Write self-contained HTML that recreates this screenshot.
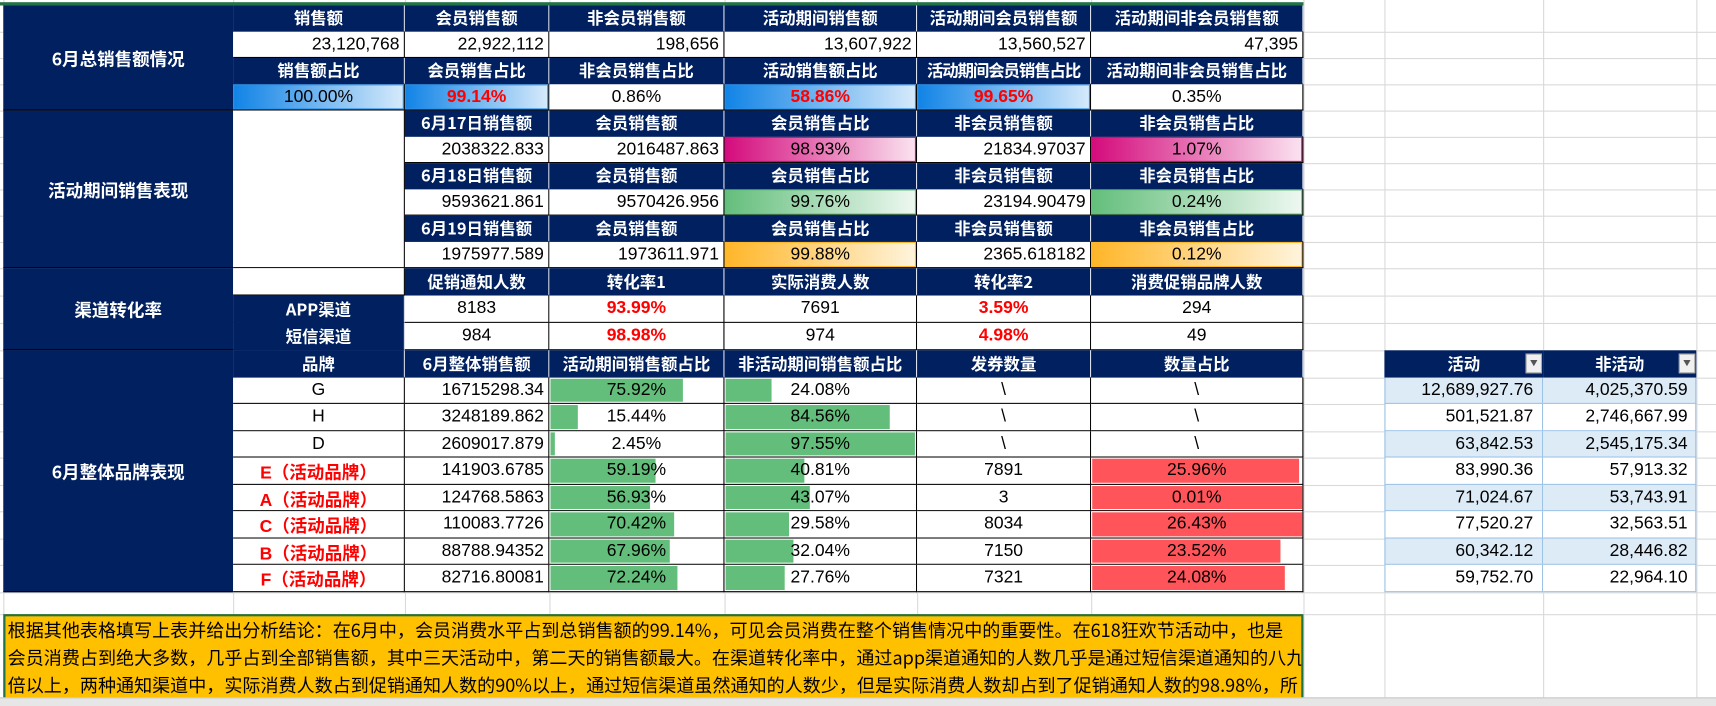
<!DOCTYPE html>
<html><head><meta charset="utf-8"><style>
html,body{margin:0;padding:0;background:#fff;overflow:hidden}
#w{position:absolute;left:0;top:0;width:1568px;height:644px;transform:scale(1.0944,1.0947);transform-origin:0 0;font-family:"Liberation Sans","Noto Sans CJK SC",sans-serif;}
.gv{position:absolute;top:0;height:644px;width:1px;background:#d9d9d9}
.gh{position:absolute;left:0;width:1568px;height:1px;background:#d9d9d9}
.c{position:absolute;box-sizing:border-box;display:flex;align-items:center;justify-content:center;font-size:16px;color:#000;background:#fff;border-right:1px solid #000;border-bottom:1px solid #000;white-space:nowrap;overflow:hidden}
.h{background:#002060;color:#fff;font-weight:bold;font-family:"Noto Sans CJK SC","Liberation Sans",sans-serif;font-size:15px;border-right:1px solid #dfe3ee;border-bottom:1px solid #002060}
.n{justify-content:flex-end;padding-right:4px}
.red{color:#f00;font-weight:bold}
.cB{left:213px;width:157px}.cC{left:370px;width:132px}.cD{left:502px;width:160px}.cE{left:662px;width:176px}.cF{left:838px;width:159px}.cG{left:997px;width:194px}
.cI{left:1265px;width:145px}.cJ{left:1410px;width:140px}
.r1{top:5px;height:24px}.r2{top:29px;height:24px}.r3{top:53px;height:24px}.r4{top:77px;height:24px}.r5{top:101px;height:24px}.r6{top:125px;height:24px}.r7{top:149px;height:24px}.r8{top:173px;height:24px}.r9{top:197px;height:24px}.r10{top:221px;height:24px}.r11{top:245px;height:25px}.r12{top:270px;height:25px}.r13{top:295px;height:25px}.r14{top:320px;height:25px}.r15{top:345px;height:24px}.r16{top:369px;height:25px}.r17{top:394px;height:24px}.r18{top:418px;height:25px}.r19{top:443px;height:24px}.r20{top:467px;height:25px}.r21{top:492px;height:24px}.r22{top:516px;height:25px}
.blue{background:linear-gradient(to right,#1083e6,#d6eafb);box-shadow:inset 0 0 0 1px #2b8fe8}
.mag{background:linear-gradient(to right,#d40a7c,#fbe3f0);box-shadow:inset 0 0 0 1px #d40a7c}
.grn{background:linear-gradient(to right,#63be7b,#eef8f1);box-shadow:inset 0 0 0 1px #63be7b}
.org{background:linear-gradient(to right,#ffb628,#fff4dd);box-shadow:inset 0 0 0 1px #ffb628}
.b{position:absolute;left:1px;top:1px;bottom:1px;background:#63be7b}
.rb{position:absolute;left:1px;top:1px;bottom:1px;background:#ff555a}
.t{position:relative}
.A{position:absolute;left:3px;width:210px;background:#002060;color:#fff;font-weight:bold;font-size:16px;display:flex;align-items:center;justify-content:center;border-bottom:1px solid #000;box-sizing:border-box;font-family:"Noto Sans CJK SC",sans-serif}
.tb{background:#fff;border-right:none;border-bottom:1px solid #9bc2e6;justify-content:flex-end;padding-right:8px;font-size:16px}
.tb.l{background:#ddebf7}
.cI.tb{border-right:1px solid #9bc2e6}
.dd{position:absolute;right:1px;top:3px;width:15px;height:18px;background:#f0f0f0;border:1px solid #aaa;box-sizing:border-box;font-size:7px;color:#555;display:flex;align-items:center;justify-content:center}
#txt{position:absolute;left:3px;top:561px;width:1188px;height:80px;background:#ffc000;border:2px solid #217346;box-sizing:border-box;font-family:"Noto Sans CJK SC","Liberation Sans",sans-serif;font-size:16.5px;line-height:25px;overflow:hidden;padding-left:2px;white-space:nowrap}
</style></head><body><div id="w">
<div class="gv" style="left:3px"></div><div class="gv" style="left:213px"></div><div class="gv" style="left:370px"></div><div class="gv" style="left:502px"></div><div class="gv" style="left:662px"></div><div class="gv" style="left:838px"></div><div class="gv" style="left:997px"></div><div class="gv" style="left:1191px"></div><div class="gv" style="left:1265px"></div><div class="gv" style="left:1410px"></div><div class="gv" style="left:1550px"></div>
<div class="gh" style="top:29px"></div><div class="gh" style="top:53px"></div><div class="gh" style="top:77px"></div><div class="gh" style="top:101px"></div><div class="gh" style="top:125px"></div><div class="gh" style="top:149px"></div><div class="gh" style="top:173px"></div><div class="gh" style="top:197px"></div><div class="gh" style="top:221px"></div><div class="gh" style="top:245px"></div><div class="gh" style="top:270px"></div><div class="gh" style="top:295px"></div><div class="gh" style="top:320px"></div><div class="gh" style="top:345px"></div><div class="gh" style="top:369px"></div><div class="gh" style="top:394px"></div><div class="gh" style="top:418px"></div><div class="gh" style="top:443px"></div><div class="gh" style="top:467px"></div><div class="gh" style="top:492px"></div><div class="gh" style="top:516px"></div><div class="gh" style="top:541px"></div><div class="gh" style="top:561px"></div>
<div style="position:absolute;left:0;top:2px;width:1191px;height:3px;background:#217346"></div>

<div class="A" style="top:5px;height:96px">6月总销售额情况</div>
<div class="A" style="top:101px;height:144px">活动期间销售表现</div>
<div class="A" style="top:245px;height:75px">渠道转化率</div>
<div class="A" style="top:320px;height:221px">6月整体品牌表现</div>

<div class="c h cB r1">销售额</div><div class="c h cC r1">会员销售额</div><div class="c h cD r1">非会员销售额</div><div class="c h cE r1">活动期间销售额</div><div class="c h cF r1">活动期间会员销售额</div><div class="c h cG r1">活动期间非会员销售额</div>
<div class="c n cB r2">23,120,768</div><div class="c n cC r2">22,922,112</div><div class="c n cD r2">198,656</div><div class="c n cE r2">13,607,922</div><div class="c n cF r2">13,560,527</div><div class="c n cG r2">47,395</div>
<div class="c h cB r3">销售额占比</div><div class="c h cC r3">会员销售占比</div><div class="c h cD r3">非会员销售占比</div><div class="c h cE r3">活动销售额占比</div><div class="c h cF r3" style="letter-spacing:-1px">活动期间会员销售占比</div><div class="c h cG r3">活动期间非会员销售占比</div>
<div class="c blue cB r4">100.00%</div><div class="c blue red cC r4">99.14%</div><div class="c cD r4">0.86%</div><div class="c blue red cE r4">58.86%</div><div class="c blue red cF r4">99.65%</div><div class="c cG r4">0.35%</div>

<div class="c cB" style="top:101px;height:144px"></div>
<div class="c h cC r5">6月17日销售额</div><div class="c h cD r5">会员销售额</div><div class="c h cE r5">会员销售占比</div><div class="c h cF r5">非会员销售额</div><div class="c h cG r5">非会员销售占比</div>
<div class="c n cC r6">2038322.833</div><div class="c n cD r6">2016487.863</div><div class="c mag cE r6">98.93%</div><div class="c n cF r6">21834.97037</div><div class="c mag cG r6">1.07%</div>
<div class="c h cC r7">6月18日销售额</div><div class="c h cD r7">会员销售额</div><div class="c h cE r7">会员销售占比</div><div class="c h cF r7">非会员销售额</div><div class="c h cG r7">非会员销售占比</div>
<div class="c n cC r8">9593621.861</div><div class="c n cD r8">9570426.956</div><div class="c grn cE r8">99.76%</div><div class="c n cF r8">23194.90479</div><div class="c grn cG r8">0.24%</div>
<div class="c h cC r9">6月19日销售额</div><div class="c h cD r9">会员销售额</div><div class="c h cE r9">会员销售占比</div><div class="c h cF r9">非会员销售额</div><div class="c h cG r9">非会员销售占比</div>
<div class="c n cC r10">1975977.589</div><div class="c n cD r10">1973611.971</div><div class="c org cE r10">99.88%</div><div class="c n cF r10">2365.618182</div><div class="c org cG r10">0.12%</div>

<div class="c cB r11"></div><div class="c h cC r11">促销通知人数</div><div class="c h cD r11">转化率1</div><div class="c h cE r11">实际消费人数</div><div class="c h cF r11">转化率2</div><div class="c h cG r11">消费促销品牌人数</div>
<div class="c h cB r12">APP渠道</div><div class="c cC r12">8183</div><div class="c red cD r12">93.99%</div><div class="c cE r12">7691</div><div class="c red cF r12">3.59%</div><div class="c cG r12">294</div>
<div class="c h cB r13">短信渠道</div><div class="c cC r13">984</div><div class="c red cD r13">98.98%</div><div class="c cE r13">974</div><div class="c red cF r13">4.98%</div><div class="c cG r13">49</div>

<div class="c h cB r14">品牌</div><div class="c h cC r14">6月整体销售额</div><div class="c h cD r14">活动期间销售额占比</div><div class="c h cE r14">非活动期间销售额占比</div><div class="c h cF r14">发券数量</div><div class="c h cG r14">数量占比</div>

<div class="c cB r15">G</div><div class="c n cC r15">16715298.34</div><div class="c cD r15"><div class="b" style="width:121px"></div><span class="t">75.92%</span></div><div class="c cE r15"><div class="b" style="width:42px"></div><span class="t">24.08%</span></div><div class="c cF r15">\</div><div class="c cG r15">\</div>
<div class="c cB r16">H</div><div class="c n cC r16">3248189.862</div><div class="c cD r16"><div class="b" style="width:25px"></div><span class="t">15.44%</span></div><div class="c cE r16"><div class="b" style="width:150px"></div><span class="t">84.56%</span></div><div class="c cF r16">\</div><div class="c cG r16">\</div>
<div class="c cB r17">D</div><div class="c n cC r17">2609017.879</div><div class="c cD r17"><div class="b" style="width:4px"></div><span class="t">2.45%</span></div><div class="c cE r17"><div class="b" style="width:173px"></div><span class="t">97.55%</span></div><div class="c cF r17">\</div><div class="c cG r17">\</div>
<div class="c red cB r18">E（活动品牌）</div><div class="c n cC r18">141903.6785</div><div class="c cD r18"><div class="b" style="width:96px"></div><span class="t">59.19%</span></div><div class="c cE r18"><div class="b" style="width:72px"></div><span class="t">40.81%</span></div><div class="c cF r18">7891</div><div class="c cG r18"><div class="rb" style="width:189px"></div><span class="t">25.96%</span></div>
<div class="c red cB r19">A（活动品牌）</div><div class="c n cC r19">124768.5863</div><div class="c cD r19"><div class="b" style="width:91px"></div><span class="t">56.93%</span></div><div class="c cE r19"><div class="b" style="width:77px"></div><span class="t">43.07%</span></div><div class="c cF r19">3</div><div class="c cG r19"><div class="rb" style="width:192px"></div><span class="t">0.01%</span></div>
<div class="c red cB r20">C（活动品牌）</div><div class="c n cC r20">110083.7726</div><div class="c cD r20"><div class="b" style="width:113px"></div><span class="t">70.42%</span></div><div class="c cE r20"><div class="b" style="width:58px"></div><span class="t">29.58%</span></div><div class="c cF r20">8034</div><div class="c cG r20"><div class="rb" style="width:192px"></div><span class="t">26.43%</span></div>
<div class="c red cB r21">B（活动品牌）</div><div class="c n cC r21">88788.94352</div><div class="c cD r21"><div class="b" style="width:109px"></div><span class="t">67.96%</span></div><div class="c cE r21"><div class="b" style="width:62px"></div><span class="t">32.04%</span></div><div class="c cF r21">7150</div><div class="c cG r21"><div class="rb" style="width:172px"></div><span class="t">23.52%</span></div>
<div class="c red cB r22">F（活动品牌）</div><div class="c n cC r22">82716.80081</div><div class="c cD r22"><div class="b" style="width:116px"></div><span class="t">72.24%</span></div><div class="c cE r22"><div class="b" style="width:54px"></div><span class="t">27.76%</span></div><div class="c cF r22">7321</div><div class="c cG r22"><div class="rb" style="width:176px"></div><span class="t">24.08%</span></div>

<div class="c h cI r14" style="border:none">活动<div class="dd">▼</div></div><div class="c h cJ r14" style="border:none">非活动<div class="dd">▼</div></div>
<div class="c tb l cI r15">12,689,927.76</div><div class="c tb l cJ r15">4,025,370.59</div>
<div class="c tb cI r16">501,521.87</div><div class="c tb cJ r16">2,746,667.99</div>
<div class="c tb l cI r17">63,842.53</div><div class="c tb l cJ r17">2,545,175.34</div>
<div class="c tb cI r18">83,990.36</div><div class="c tb cJ r18">57,913.32</div>
<div class="c tb l cI r19">71,024.67</div><div class="c tb l cJ r19">53,743.91</div>
<div class="c tb cI r20">77,520.27</div><div class="c tb cJ r20">32,563.51</div>
<div class="c tb l cI r21">60,342.12</div><div class="c tb l cJ r21">28,446.82</div>
<div class="c tb cI r22">59,752.70</div><div class="c tb cJ r22">22,964.10</div>
<div style="position:absolute;left:1265px;top:345px;width:1px;height:196px;background:#9bc2e6"></div>
<div style="position:absolute;left:1549px;top:345px;width:1px;height:196px;background:#9bc2e6"></div>

<div id="txt">根据其他表格填写上表并给出分析结论：在6月中，会员消费水平占到总销售额的99.14%，可见会员消费在整个销售情况中的重要性。在618狂欢节活动中，也是<br>会员消费占到绝大多数，几乎占到全部销售额，其中三天活动中，第二天的销售额最大。在渠道转化率中，通过app渠道通知的人数几乎是通过短信渠道通知的八九<br>倍以上，两种通知渠道中，实际消费人数占到促销通知人数的90%以上，通过短信渠道虽然通知的人数少，但是实际消费人数却占到了促销通知人数的98.98%，所<br>以通过短信渠道进行通知的效果比通过app渠道通知的效果明显。</div>
<div style="position:absolute;left:0;top:637px;width:1568px;height:7px;background:#e6e6e6;border-top:1px solid #c8c8c8"></div>
</div></body></html>
